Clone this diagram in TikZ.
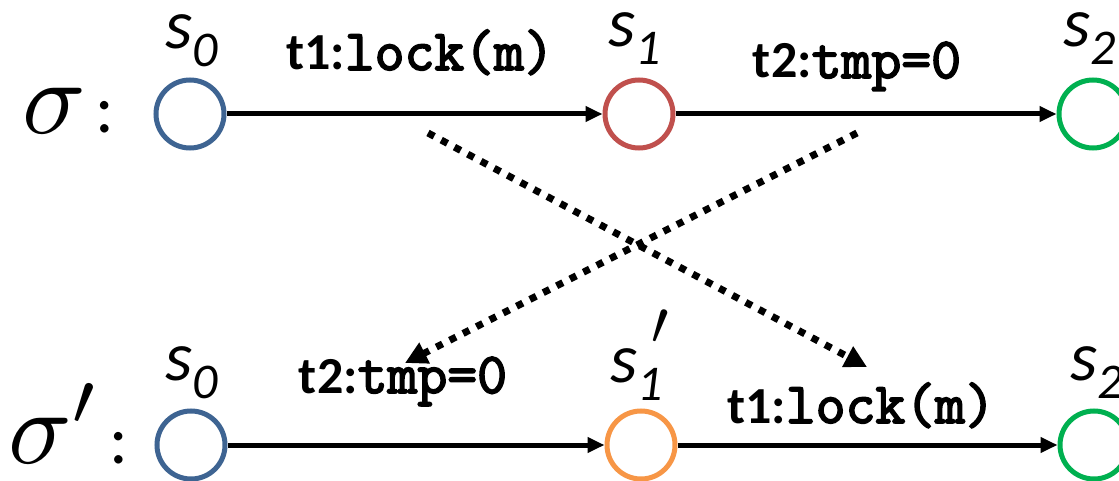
\documentclass[tikz,border=0pt]{standalone}
\usepackage{fontspec}
\usepackage{graphicx}
\setmainfont{Carlito}
\newfontfamily\codefont{Latin Modern Mono}[AutoFakeBold=3]
\usetikzlibrary{arrows.meta}
\definecolor{cblue}{RGB}{62,100,146}
\definecolor{cred}{RGB}{192,80,77}
\definecolor{cgreen}{RGB}{0,176,80}
\definecolor{corange}{RGB}{247,150,70}
\tikzset{
  state/.style={circle, draw=#1, line width=5pt, minimum size=68pt, inner sep=0pt, fill=white},
  trans/.style={line width=5pt, -{Triangle[length=17pt,width=15pt]}},
  swap/.style={line width=7pt, dash pattern=on 7pt off 8pt, -{Triangle[length=22pt,width=22pt]}},
  elabel/.style={anchor=base, inner sep=0pt, font=\fontsize{52}{52}\selectfont\bfseries},
  slabel/.style={anchor=base west, inner sep=0pt, font=\fontsize{70}{70}\selectfont\itshape},
  seqlabel/.style={anchor=base west, inner sep=0pt},
}
\newcommand{\sub}[1]{\raisebox{-18pt}{\fontsize{50}{50}\selectfont #1}}
\newcommand{\cd}[1]{{\codefont\fontsize{58}{58}\selectfont\bfseries #1}}
\begin{document}
\begin{tikzpicture}[x=1pt,y=1pt]
\useasboundingbox (0,0) rectangle (1119,480);
% top row
\node[state=cblue]  (a0) at (190,366) {};
\node[state=cred]   (a1) at (639,366) {};
\node[state=cgreen] (a2) at (1093,366) {};
% bottom row
\node[state=cblue]   (b0) at (191,35) {};
\node[state=corange] (b1) at (641,35) {};
\node[state=cgreen]  (b2) at (1094,35) {};

\draw[trans] (a0) -- (a1);
\draw[trans] (a1) -- (a2);
\draw[trans] (b0) -- (b1);
\draw[trans] (b1) -- (b2);

\node[elabel] (la1) at (420,410) {t1:\cd{lock(m)}};
\node[elabel] (la2) at (857,402) {t2:\cd{tmp=0}};
\node[elabel] (lb1) at (403,87) {t2:\cd{tmp=0}};
\node[elabel] (lb2) at (861,57) {t1:\cd{lock(m)}};

\node[slabel] (sa0) at (165,431) {s\sub{0}};
\node[slabel] (sa1) at (608,433) {s\sub{1}};
\node[slabel] (sa2) at (1063,433) {s\sub{2}};
\node[slabel] (sb0) at (165,100) {s\sub{0}};
\node[slabel] (sb1) at (610,98) {s\sub{1}\raisebox{15pt}{\kern-11pt\scalebox{2.5}{$'$}}};
\node[slabel] (sb2) at (1070,100) {s\sub{2}};

\node[seqlabel] (sig) at (22,347) {\scalebox{10.5}{$\sigma$}\hspace{10pt}{\fontsize{70}{70}\selectfont :}};
\node[seqlabel] (sigp) at (8,17) {\scalebox{10.5}{$\sigma'$}\hspace{8pt}{\fontsize{70}{70}\selectfont :}};

\coordinate (d1s) at (428,347);
\coordinate (d1e) at (867,113);
\coordinate (d2s) at (857,347);
\coordinate (d2e) at (405,117);
\draw[swap] (d1s) -- (d1e);
\draw[swap] (d2s) -- (d2e);
\end{tikzpicture}
\end{document}
